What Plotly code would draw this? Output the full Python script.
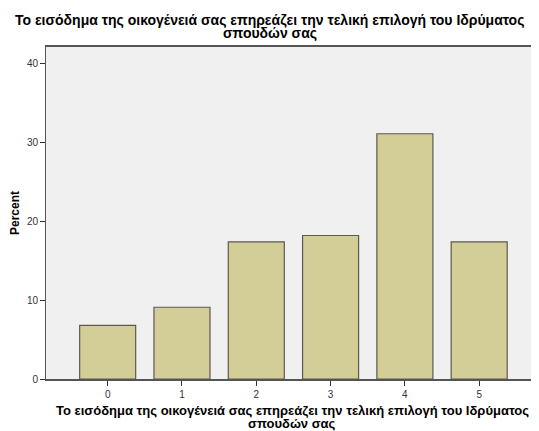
import plotly.graph_objects as go

# data
categories = [0, 1, 2, 3, 4, 5]
percent = [6.8, 9.1, 17.4, 18.2, 31.1, 17.4]
y_ticks = [0, 10, 20, 30, 40]

label_line1 = "Το εισόδημα της οικογένειά σας επηρεάζει την τελική επιλογή του Ιδρύματος"
label_line2 = "σπουδών σας"

FONT = "Liberation Sans, Arial, sans-serif"

# page body has an 8px margin, so the figure is sized to the visible area
W, H = 531, 423
L, T, B = 38, 39, 52
plot_w, plot_h = W - L, H - T - B
bottom = H - B


def px_y(ypage):
    # page pixel y -> plot-domain fraction
    return (bottom - (ypage - 8)) / plot_h


def px_x(xpage):
    return ((xpage - 8) - L) / plot_w


fig = go.Figure(go.Bar(
    x=categories, y=percent,
    width=0.754,
    marker=dict(color="#d3ce97", line=dict(color="#5a5a50", width=1.2)),
    hoverinfo="x+y",
))

ann = []
# chart title, two tight lines centred on the page
for text, ypage in [(label_line1, 20), (label_line2, 33.5)]:
    ann.append(dict(text=f"<b>{text}</b>", x=px_x(269.5), xref="paper",
                    y=px_y(ypage), yref="paper",
                    showarrow=False, xanchor="center", yanchor="middle",
                    font=dict(family=FONT, size=14, color="#000")))
# x-axis title, centred on the plot area
for text, ypage in [(label_line1, 410.5), (label_line2, 423.5)]:
    ann.append(dict(text=f"<b>{text}</b>", x=px_x(292), xref="paper",
                    y=px_y(ypage), yref="paper",
                    showarrow=False, xanchor="center", yanchor="middle",
                    font=dict(family=FONT, size=13, color="#000")))

fig.update_layout(
    width=W, height=H,
    margin=dict(l=L, r=0, t=T, b=B),
    paper_bgcolor="white",
    plot_bgcolor="#f0f0f0",
    showlegend=False,
    annotations=ann,
    xaxis=dict(
        range=[-0.83, 5.805],
        tickvals=categories,
        ticks="outside", ticklen=5, tickcolor="#333",
        tickfont=dict(family=FONT, size=10, color="#333"),
        showline=True, linecolor="#555", linewidth=1.5, mirror=True,
        showgrid=False, zeroline=False, fixedrange=True,
    ),
    yaxis=dict(
        range=[0, 42.1],
        tickvals=y_ticks,
        ticks="outside", ticklen=5, tickcolor="#333",
        tickfont=dict(family=FONT, size=10, color="#333"),
        showline=True, linecolor="#555", linewidth=1,
        showgrid=False, zeroline=False, fixedrange=True,
        title=dict(text="<b>Percent</b>", standoff=6,
                   font=dict(family=FONT, size=12, color="#000")),
    ),
)

fig.write_html("out.html")
